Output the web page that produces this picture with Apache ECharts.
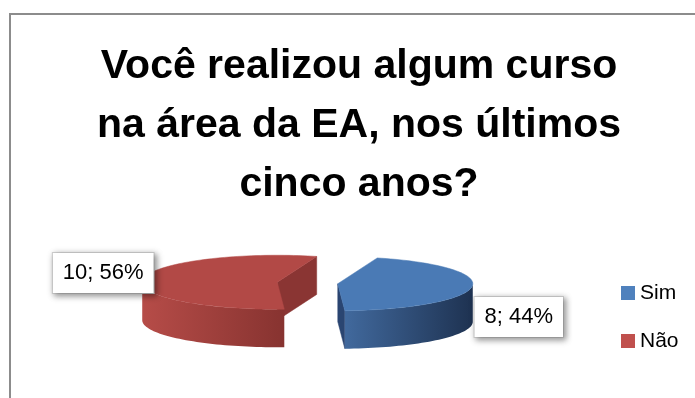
<!DOCTYPE html>
<html>
<head>
<meta charset="utf-8">
<script src="https://cdn.jsdelivr.net/npm/echarts@6/dist/echarts.min.js"></script>
<style>html,body{margin:0;padding:0;background:#fff}#c{width:695px;height:398px}</style>
</head>
<body>
<div id="c"></div>
<script>
const categories = ['Sim', 'Não'];
const values = [8, 10];
const titleText = 'Você realizou algum curso\nna área da EA, nos últimos\ncinco anos?';

// style config
const legendColors = ['#4F81BD', '#C0504D'];
const topColors = ['#4A7AB5', '#B24946'];
const wallColors = [['#41699D', '#1E3251'], ['#B64C48', '#873330']];
const faceColors = ['#2A4571', '#8A3533'];
const labelOffsets = [[47, 30], [-40, -6]];
const geo = { cx: 307.5, cy: 283, rx: 135, ry: 27, depth: 38, explode: 30.5, startAngle: 17 };

const total = values.reduce((a, b) => a + b, 0);
const rad = d => d * Math.PI / 180;

function makeRender(i) {
  return function (params, api) {
    const v = api.value(0);
    let before = 0;
    for (let k = 0; k < i; k++) before += values[k];
    const a0 = geo.startAngle + before / total * 360;
    const a1 = a0 + v / total * 360;
    const mid = (a0 + a1) / 2;
    const sx = geo.cx + geo.explode * Math.sin(rad(mid));
    const sy = geo.cy - geo.explode * Math.cos(rad(mid)) * geo.ry / geo.rx;
    const P = (t, d) => [sx + geo.rx * Math.sin(rad(t)), sy - geo.ry * Math.cos(rad(t)) + d];
    const arc = (t0, t1, d) => {
      const pts = [];
      const n = Math.max(2, Math.ceil(Math.abs(t1 - t0) / 2));
      for (let k = 0; k <= n; k++) pts.push(P(t0 + (t1 - t0) * k / n, d));
      return pts;
    };
    const children = [];
    const D = geo.depth;
    const face = (t) => ({
      type: 'polygon',
      shape: { points: [[sx, sy], P(t, 0), P(t, D), [sx, sy + D]] },
      style: { fill: faceColors[i], stroke: faceColors[i], lineWidth: 0.5 }
    });
    if (Math.sin(rad(a0)) < 0) children.push(face(a0));
    if (Math.sin(rad(a1)) > 0) children.push(face(a1));
    [[90, 270], [450, 630]].forEach(([f0, f1]) => {
      const t0 = Math.max(a0, f0), t1 = Math.min(a1, f1);
      if (t1 > t0) {
        const pts = arc(t0, t1, 0).concat(arc(t1, t0, D));
        children.push({
          type: 'polygon',
          shape: { points: pts },
          style: {
            fill: new echarts.graphic.LinearGradient(0, 0, 1, 0, [
              { offset: 0, color: wallColors[i][0] }, { offset: 1, color: wallColors[i][1] }]),
            lineWidth: 0
          }
        });
      }
    });
    children.push({
      type: 'polygon',
      shape: { points: [[sx, sy]].concat(arc(a0, a1, 0)) },
      style: { fill: topColors[i], stroke: topColors[i], lineWidth: 0.5 }
    });
    const rim = P(mid, 0);
    const pct = Math.round(v / total * 100);
    children.push({
      type: 'text',
      x: rim[0] + labelOffsets[i][0],
      y: rim[1] + labelOffsets[i][1],
      z2: 10,
      style: {
        text: v + '; ' + pct + '%',
        font: '22px "Liberation Sans"',
        fill: '#000',
        align: 'center',
        verticalAlign: 'middle',
        backgroundColor: '#fff',
        borderColor: '#cfcfcf',
        borderWidth: 1,
        padding: [9, 10, 9, 10],
        shadowColor: 'rgba(0,0,0,0.4)',
        shadowBlur: 6,
        shadowOffsetX: 2,
        shadowOffsetY: 2
      }
    });
    return { type: 'group', children };
  };
}

const chart = echarts.init(document.getElementById('c'), null, { renderer: 'canvas' });
chart.setOption({
  animation: false,
  backgroundColor: '#fff',
  title: {
    text: titleText,
    left: 359,
    top: 37,
    padding: 0,
    textAlign: 'center',
    textStyle: { fontFamily: '"Liberation Sans"', fontWeight: 'bold', fontSize: 41, lineHeight: 59, color: '#000' }
  },
  legend: {
    data: categories,
    orient: 'vertical',
    left: 616,
    top: 276,
    itemWidth: 14,
    itemHeight: 14,
    itemGap: 24,
    icon: 'rect',
    selectedMode: false,
    textStyle: { fontFamily: '"Liberation Sans"', fontSize: 21, lineHeight: 24, color: '#000' }
  },
  graphic: [{
    type: 'rect',
    shape: { x: 10, y: 14, width: 800, height: 500 },
    style: { fill: 'none', stroke: '#8c8c8c', lineWidth: 2 },
    z: -10
  }],
  series: categories.map((name, i) => ({
    type: 'custom',
    name: name,
    coordinateSystem: 'none',
    itemStyle: { color: legendColors[i] },
    renderItem: makeRender(i),
    data: [[values[i]]]
  }))
});
</script>
</body>
</html>
